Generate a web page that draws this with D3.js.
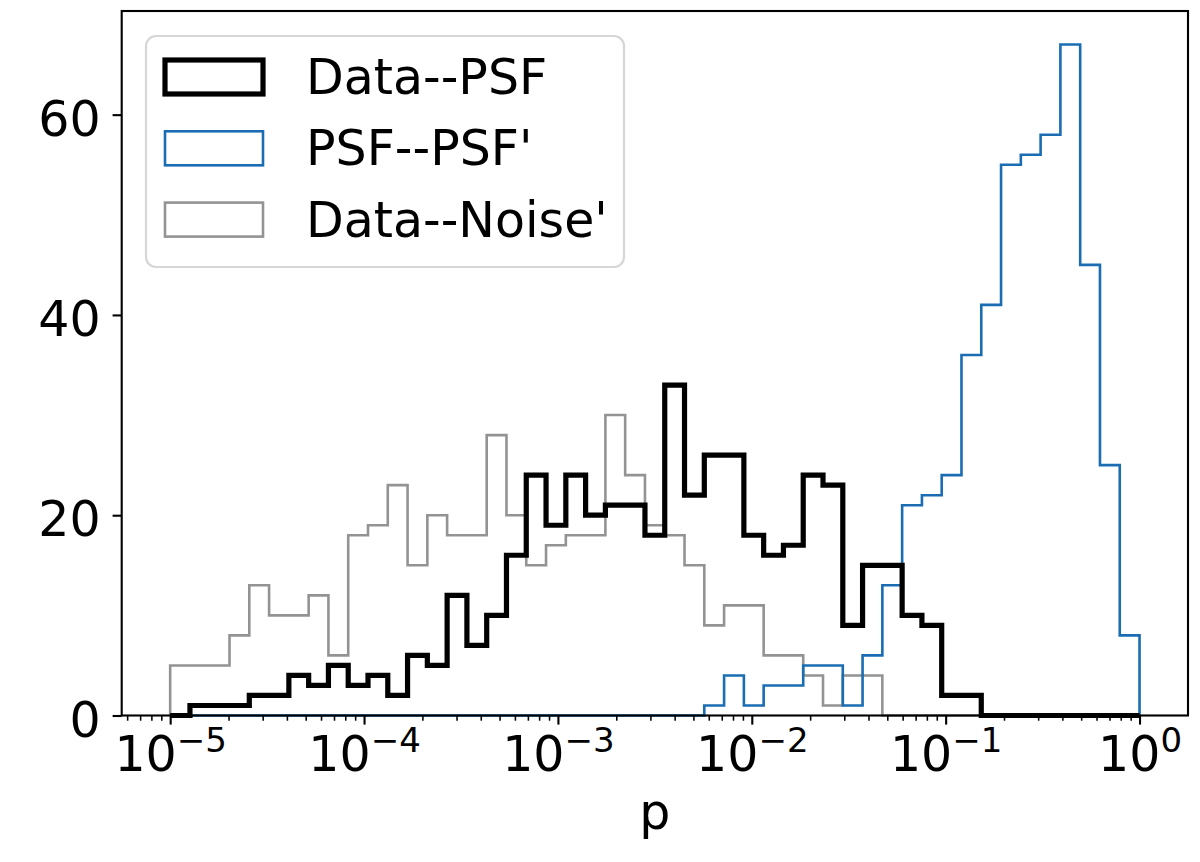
<!DOCTYPE html>
<html lang="en">
<head>
    <meta charset="UTF-8">
    <title>p histogram</title>
    <script src="https://d3js.org/d3.v7.min.js"></script>
    <style>
        body {
            margin: 0;
            background: #fff;
        }
        svg text {
            font-family: "DejaVu Sans", sans-serif;
            fill: #000;
        }
    </style>
</head>
<body>
    <div id="chart"></div>
    <script>
        // 49 log bins between 1e-5 and 1e0 (like np.logspace(-5, 0, 50))
        const binCount = 49;
        const edges = d3.range(binCount + 1).map(k => Math.pow(10, -5 + 5 * k / binCount));

        // counts per bin
        const dataPsf = [0, 1, 1, 1, 2, 2, 4, 3, 5, 3,
                         4, 2, 6, 5, 12, 7, 10, 16, 24, 19,
                         24, 20, 21, 21, 18, 33, 22, 26, 26, 18,
                         16, 17, 24, 23, 9, 15, 15, 10, 9, 2,
                         2, 0, 0, 0, 0, 0, 0, 0, 0];
        const psfPsf = [0, 0, 0, 0, 0, 0, 0, 0, 0, 0,
                        0, 0, 0, 0, 0, 0, 0, 0, 0, 0,
                        0, 0, 0, 0, 0, 0, 0, 1, 4, 1,
                        3, 3, 5, 5, 1, 6, 13, 21, 22, 24,
                        36, 41, 55, 56, 58, 67, 45, 25, 8];
        const dataNoise = [5, 5, 5, 8, 13, 10, 10, 12, 6, 18,
                           19, 23, 15, 20, 18, 18, 28, 20, 15, 17,
                           18, 18, 30, 24, 19, 18, 15, 9, 11, 11,
                           6, 6, 4, 1, 4, 4, 0, 0, 0, 0,
                           0, 0, 0, 0, 0, 0, 0, 0, 0];

        const seriesNames = ["Data--PSF", "PSF--PSF'", "Data--Noise'"];
        const seriesColors = ["#000000", "#1a6db3", "#939393"];
        const seriesWidths = [5.2, 2.6, 2.6];
        const seriesCounts = [dataPsf, psfPsf, dataNoise];

        const yTicks = [0, 20, 40, 60];
        const xMajor = [-5, -4, -3, -2, -1, 0];
        const supLabels = ["\u22125", "\u22124", "\u22123", "\u22122", "\u22121", "0"];

        const W = 1200, H = 862;
        const plotL = 121.7, plotR = 1188, plotT = 11, plotB = 715.5;
        const fs = 49;

        const svg = d3.select("#chart").append("svg")
            .attr("width", W)
            .attr("height", H);

        const x = d3.scaleLog()
            .domain([Math.pow(10, -5.25), Math.pow(10, 0.25)])
            .range([plotL, plotR]);

        const yMax = d3.max(seriesCounts, s => d3.max(s)) * 1.05;
        const y = d3.scaleLinear()
            .domain([0, yMax])
            .range([plotB, plotT]);

        // step outline like histtype='step'
        function stepPoints(counts) {
            const pts = [[edges[0], 0]];
            counts.forEach((c, i) => {
                pts.push([edges[i], c]);
                pts.push([edges[i + 1], c]);
            });
            pts.push([edges[binCount], 0]);
            return pts;
        }
        const line = d3.line()
            .x(d => x(d[0]))
            .y(d => y(d[1]));

        // draw grey first, black last so it sits on top
        [2, 1, 0].forEach(i => {
            svg.append("path")
                .datum(stepPoints(seriesCounts[i]))
                .attr("fill", "none")
                .attr("stroke", seriesColors[i])
                .attr("stroke-width", seriesWidths[i])
                .attr("stroke-linejoin", "miter")
                .attr("d", line);
        });

        // minor ticks
        const minorVals = [];
        for (let e = -6; e <= 0; e++) {
            for (let m = 2; m <= 9; m++) {
                const v = m * Math.pow(10, e);
                if (v > x.domain()[0] && v < x.domain()[1]) minorVals.push(v);
            }
        }
        svg.append("g")
            .attr("transform", `translate(0,${plotB})`)
            .call(d3.axisBottom(x).tickValues(minorVals).tickFormat("").tickSize(5.2).tickSizeOuter(0))
            .call(g => g.select(".domain").remove())
            .call(g => g.selectAll("line").attr("stroke-width", 1.56));

        // major ticks + labels 10^n
        const xAxis = svg.append("g")
            .attr("transform", `translate(0,${plotB})`)
            .call(d3.axisBottom(x).tickValues(xMajor.map(e => Math.pow(10, e))).tickFormat("").tickSize(9.1).tickSizeOuter(0));
        xAxis.select(".domain").remove();
        xAxis.selectAll("line").attr("stroke-width", 2.1);
        xAxis.selectAll(".tick text").remove();
        xAxis.selectAll(".tick").each(function(d, i) {
            const t = d3.select(this).append("text")
                .attr("y", 55)
                .attr("text-anchor", "middle")
                .style("font-size", fs + "px");
            t.append("tspan").text("10");
            t.append("tspan")
                .attr("dy", -19)
                .style("font-size", "34px")
                .text(supLabels[i]);
        });

        // y axis
        const yAxis = svg.append("g")
            .attr("transform", `translate(${plotL},0)`)
            .call(d3.axisLeft(y).tickValues(yTicks).tickSize(9.1).tickPadding(12).tickSizeOuter(0));
        yAxis.select(".domain").remove();
        yAxis.selectAll("line").attr("stroke-width", 2.1);
        yAxis.selectAll("text")
            .attr("dy", null)
            .attr("y", 20.5)
            .style("font-size", fs + "px");

        // frame
        svg.append("rect")
            .attr("x", plotL)
            .attr("y", plotT)
            .attr("width", plotR - plotL)
            .attr("height", plotB - plotT)
            .attr("fill", "none")
            .attr("stroke", "#000")
            .attr("stroke-width", 2.1);

        // x label
        svg.append("text")
            .attr("x", (plotL + plotR) / 2)
            .attr("y", 828.5)
            .attr("text-anchor", "middle")
            .style("font-size", fs + "px")
            .text("p");

        // legend
        const legend = svg.append("g");
        legend.append("rect")
            .attr("x", 146)
            .attr("y", 36)
            .attr("width", 478)
            .attr("height", 231)
            .attr("rx", 10)
            .attr("fill", "#fff")
            .attr("fill-opacity", 0.8)
            .attr("stroke", "#d6d6d6")
            .attr("stroke-width", 2.2);

        seriesNames.forEach((name, i) => {
            const rowY = 60 + i * 71.3;
            legend.append("rect")
                .attr("x", 165)
                .attr("y", rowY)
                .attr("width", 98)
                .attr("height", 34)
                .attr("fill", "none")
                .attr("stroke", seriesColors[i])
                .attr("stroke-width", seriesWidths[i]);
            legend.append("text")
                .attr("x", 306)
                .attr("y", rowY + 34)
                .style("font-size", fs + "px")
                .text(name);
        });
    </script>
</body>
</html>
